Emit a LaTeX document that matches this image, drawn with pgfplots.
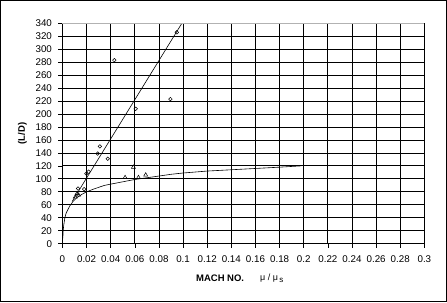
\documentclass[border=0pt]{standalone}
\usepackage{fontspec}
\setmainfont{Liberation Sans}
\usepackage{pgfplots}
\pgfplotsset{compat=1.18}
\usetikzlibrary{calc}
\begin{document}
\begin{tikzpicture}
\begin{axis}[
  scale only axis, width=361.5bp, height=220.2bp,
  xmin=0, xmax=0.3, ymin=0, ymax=340,
  xtick={0,0.02,0.04,0.06,0.08,0.1,0.12,0.14,0.16,0.18,0.2,0.22,0.24,0.26,0.28,0.3},
  xticklabels={0,0.02,0.04,0.06,0.08,0.1,0.12,0.14,0.16,0.18,0.2,0.22,0.24,0.26,0.28,0.3},
  ytick={0,20,...,340},
  grid=major, grid style={black, line width=0.75pt},
  axis lines*=left,
  axis line style={black, line width=0.8pt},
  tick align=outside, major tick length=4bp,
  tick style={black, line width=0.7pt},
  /pgf/number format/assume math mode=true,
  ticklabel style={font=\fontsize{9.8}{11}\selectfont},
  xticklabel style={yshift=-4bp},
  yticklabel style={xshift=-3bp},
  clip=false,
]
\addplot[black, line width=0.6pt] coordinates {(0.008,65) (0.099,340)};
\addplot[black, line width=0.6pt] coordinates {
 (0.0003,8) (0.0005,17) (0.001,28) (0.002,40) (0.003,47) (0.0046,53) (0.006,58)
 (0.0087,65) (0.012,71) (0.016,76) (0.02,80) (0.027,85) (0.035,90) (0.046,94)
 (0.06,99) (0.075,103) (0.09,107) (0.1,109) (0.12,112) (0.14,114) (0.16,116)
 (0.18,118) (0.198,120)};
\addplot[only marks, mark=o, mark size=1.8pt, black, mark options={line width=0.5pt}] coordinates {
 (0.043,283) (0.0607,208) (0.0895,223) (0.0948,326) (0.031,150) (0.0292,139)
 (0.0375,131) (0.0217,111) (0.0198,108) (0.0129,85) (0.018,84)};
\addplot[only marks, mark=triangle, mark size=2.3pt, black, mark options={line width=0.5pt}] coordinates {
 (0.0106,72) (0.012,77) (0.0134,75) (0.0519,102) (0.0588,118) (0.063,102) (0.069,106)};
\draw[gray!60, line width=0.8pt] (rel axis cs:0,1) -- (rel axis cs:1,1);
\node[font=\bfseries\fontsize{9.5}{11}\selectfont] at ($(axis cs:0.1307,0)+(0,-35bp)$) {MACH NO.};
\node[font=\fontsize{9}{11}\selectfont] at ($(axis cs:0.1735,0)+(0,-35bp)$) {μ / μ\,\raisebox{-0.4ex}{\footnotesize s}};
\node[font=\bfseries\fontsize{9.5}{11}\selectfont, rotate=90] at ($(rel axis cs:0,0.5)+(-40bp,0)$) {(L/D)};
\draw[black, line width=0.8pt] ($(rel axis cs:0,0)+(-62bp,-58bp)$) rectangle ($(rel axis cs:1,1)+(22.2bp,22.8bp)$);
\end{axis}
\end{tikzpicture}
\end{document}
